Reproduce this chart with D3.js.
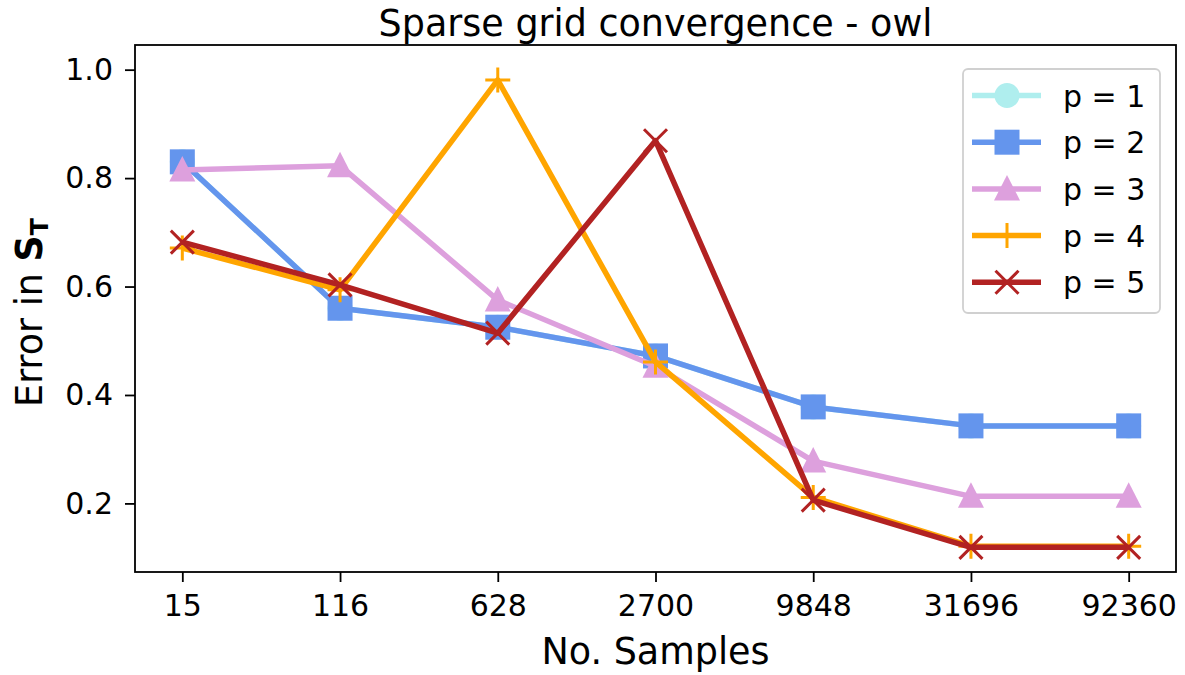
<!DOCTYPE html>
<html><head><meta charset="utf-8">
<script src="https://cdn.jsdelivr.net/npm/d3@7"></script>
<style>body{margin:0;background:#fff}svg{display:block}text{font-family:"DejaVu Sans",sans-serif}</style>
</head><body>
<svg id="c" width="1185" height="675"></svg>
<script>
const categories = ["15","116","628","2700","9848","31696","92360"];
const seriesNames = ["p = 1","p = 2","p = 3","p = 4","p = 5"];
const p1 = [0.830,0.560,0.525,0.472,0.378,0.343,0.343];
const p2 = [0.830,0.560,0.525,0.472,0.378,0.343,0.343];
const p3 = [0.815,0.823,0.575,0.453,0.278,0.213,0.213];
const p4 = [0.671,0.594,0.981,0.461,0.211,0.121,0.121];
const p5 = [0.682,0.603,0.514,0.869,0.206,0.119,0.119];
const yTicks = [0.2,0.4,0.6,0.8,1.0];
const colors = ["#afeeee","#6495ed","#dda0dd","#ffa500","#b22222"];
const markers = ["circle","square","triangle","plus","x"];
const series = [p1,p2,p3,p4,p5];

const svg = d3.select("#c");
const L=135, R=1176, T=45, B=572;
const x = d3.scaleLinear().domain([-0.3,6.3]).range([L,R]);
const y = d3.scaleLinear().domain([0.0735,1.0455]).range([B,T]);

function marker(g, type, cx, cy, col){
  const s=12.5;
  if(type==="circle") g.append("circle").attr("cx",cx).attr("cy",cy).attr("r",12.5).attr("fill",col);
  else if(type==="square") g.append("rect").attr("x",cx-s).attr("y",cy-s).attr("width",2*s).attr("height",2*s).attr("fill",col);
  else if(type==="triangle") g.append("path").attr("d",`M${cx},${cy-14}L${cx+13},${cy+11.5}L${cx-13},${cy+11.5}Z`).attr("fill",col);
  else if(type==="plus") g.append("path").attr("d",`M${cx-12.5},${cy}H${cx+12.5}M${cx},${cy-12.5}V${cy+12.5}`).attr("stroke",col).attr("stroke-width",3);
  else if(type==="x") g.append("path").attr("d",`M${cx-11.5},${cy-11.5}L${cx+11.5},${cy+11.5}M${cx-11.5},${cy+11.5}L${cx+11.5},${cy-11.5}`).attr("stroke",col).attr("stroke-width",3);
}

const plot = svg.append("g");
const line = d3.line().x((d,i)=>x(i)).y(d=>y(d));
series.forEach((s,k)=>{
  const g = plot.append("g");
  g.append("path").attr("d",line(s)).attr("fill","none").attr("stroke",colors[k]).attr("stroke-width",5.5).attr("stroke-linejoin","round");
  s.forEach((v,i)=>marker(g,markers[k],x(i),y(v),colors[k]));
});

// axes
const xa = svg.append("g").attr("transform",`translate(0,${B})`)
  .call(d3.axisBottom(x).tickValues(d3.range(categories.length)).tickFormat(i=>categories[i]).tickSize(10).tickPadding(13).tickSizeOuter(0));
const ya = svg.append("g").attr("transform",`translate(${L},0)`)
  .call(d3.axisLeft(y).tickValues(yTicks).tickFormat(d3.format(".1f")).tickSize(10).tickPadding(12).tickSizeOuter(0));
[xa,ya].forEach(a=>{a.select(".domain").remove();a.selectAll("line").attr("stroke","#000").attr("stroke-width",1.8);a.selectAll("text").attr("font-size",30).attr("fill","#000").attr("font-family","DejaVu Sans");});
svg.append("rect").attr("x",L).attr("y",T).attr("width",R-L).attr("height",B-T).attr("fill","none").attr("stroke","#000").attr("stroke-width",1.8);

// titles
svg.append("text").attr("x",(L+R)/2).attr("y",36).attr("text-anchor","middle").attr("font-size",36.5).text("Sparse grid convergence - owl");
svg.append("text").attr("x",(L+R)/2).attr("y",664).attr("text-anchor","middle").attr("font-size",36.5).text("No. Samples");
const yl = svg.append("text").attr("transform",`translate(42,${(T+B)/2+4}) rotate(-90)`).attr("text-anchor","middle").attr("font-size",36.5);
yl.append("tspan").text("Error in ");
yl.append("tspan").attr("font-weight","bold").text("S");
yl.append("tspan").attr("font-weight","bold").attr("font-size",25).attr("dy",6).text("T");

// legend
const lg = svg.append("g");
lg.append("rect").attr("x",963).attr("y",69).attr("width",197).attr("height",244).attr("rx",5).attr("fill","#fff").attr("fill-opacity",0.8).attr("stroke","#d0d0d0").attr("stroke-width",1.8);
seriesNames.forEach((n,k)=>{
  const cy = 95.5 + k*46.7;
  lg.append("line").attr("x1",972).attr("x2",1041).attr("y1",cy).attr("y2",cy).attr("stroke",colors[k]).attr("stroke-width",5.5);
  marker(lg,markers[k],1007,cy,colors[k]);
  lg.append("text").attr("x",1063).attr("y",cy+11).attr("font-size",30).text(n);
});
</script>
</body></html>
